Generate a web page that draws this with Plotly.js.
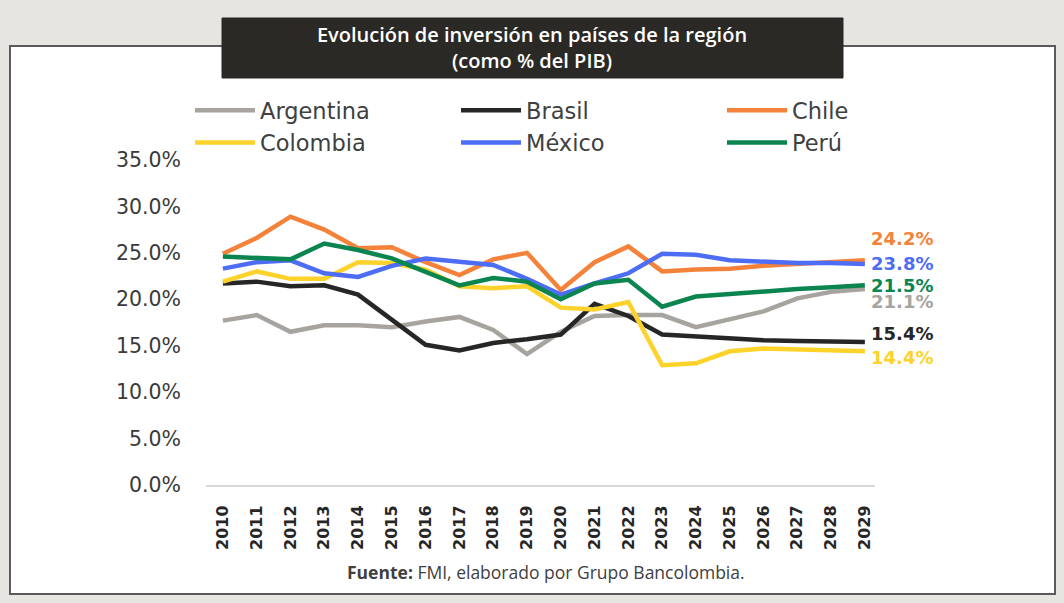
<!DOCTYPE html>
<html>
<head>
<meta charset="utf-8">
<script src="https://cdn.plot.ly/plotly-3.0.1.min.js"></script>
<style>
html,body{margin:0;padding:0;background:#e6e5e1;}
#chart{width:1064px;height:603px;}
</style>
</head>
<body>
<div id="chart"></div>
<script>
var years = ["2010","2011","2012","2013","2014","2015","2016","2017","2018","2019",
             "2020","2021","2022","2023","2024","2025","2026","2027","2028","2029"];
var argentina = [17.7,18.3,16.5,17.2,17.2,17.0,17.6,18.1,16.7,14.1,16.5,18.2,18.3,18.3,17.0,17.8,18.7,20.1,20.8,21.1];
var brasil    = [21.7,21.9,21.4,21.5,20.5,17.8,15.1,14.5,15.3,15.7,16.2,19.5,18.2,16.2,16.0,15.7,15.6,15.5,15.4,15.4];
var chile     = [24.9,26.6,28.9,27.5,25.5,25.6,24.0,22.6,24.3,25.0,21.0,24.0,25.7,23.0,23.2,23.3,23.6,23.8,24.0,24.2];
var colombia  = [21.9,23.0,22.2,22.2,24.0,23.9,23.2,21.4,21.2,21.4,19.1,18.9,19.7,12.9,13.1,14.4,14.7,14.6,14.5,14.4];
var mexico    = [23.3,24.0,24.2,22.8,22.4,23.6,24.4,24.0,23.7,22.2,20.5,21.7,22.8,24.9,24.8,24.2,24.0,23.9,23.9,23.8];
var peru      = [24.6,24.4,24.3,26.0,25.3,24.4,23.0,21.5,22.3,21.9,20.0,21.7,22.1,19.2,20.3,20.6,20.8,21.1,21.3,21.5];

var names  = ["Argentina","Brasil","Chile","Colombia","México","Perú"];
var values = [argentina, brasil, chile, colombia, mexico, peru];
var colors = ["#a7a49f","#262626","#f4823a","#fdd22b","#4e6df5","#0b8550"];
var labelShift = [-12, 9, 22, -6, 1, 0];
var titleText = "Evolución de inversión en países de la región<br>(como % del PIB)";
var sourceText = "<b>Fuente:</b> FMI, elaborado por Grupo Bancolombia.";

// layout geometry (pixels)
var W = 1064, H = 603, L = 206, R = 189, T = 160, B = 118;
var pw = W - L - R, ph = H - T - B;
function px(x){ return (x - L) / pw; }
function py(y){ return (H - B - y) / ph; }

var traces = names.map(function(n, i){
  return {
    type: "scatter", mode: "lines", name: n, x: years, y: values[i],
    line: {color: colors[i], width: 4.5},
    hoverinfo: "x+y+name"
  };
});

var annotations = names.map(function(n, i){
  var last = values[i].length - 1;
  var v = values[i][last];
  return {
    x: last, y: v, xref: "x", yref: "y",
    text: "<b>" + v.toFixed(1) + "%</b>", showarrow: false,
    xanchor: "left", yanchor: "middle", xshift: 4, yshift: labelShift[i],
    font: {family: "DejaVu Sans", size: 18, color: colors[i]}
  };
});
annotations.push({
  xref: "paper", yref: "paper", x: px(546), y: py(572),
  text: sourceText, showarrow: false, xanchor: "center", yanchor: "middle",
  font: {family: "Open Sans", size: 17.5, color: "#404040"}
});

var layout = {
  width: W, height: H,
  margin: {l: L, r: R, t: T, b: B, pad: 0},
  paper_bgcolor: "#e6e5e1",
  plot_bgcolor: "rgba(0,0,0,0)",
  showlegend: true,
  title: {
    text: titleText, x: 532/W, xanchor: "center", y: 1 - 42/H, yanchor: "middle",
    font: {family: "Open Sans", size: 20, color: "#ffffff", weight: 600}
  },
  legend: {
    orientation: "h", x: px(190), y: py(89), xanchor: "left", yanchor: "top",
    font: {family: "DejaVu Sans", size: 22.5, color: "#404040"},
    itemwidth: 60,
    entrywidth: 191, entrywidthmode: "pixels",
    bgcolor: "rgba(0,0,0,0)", traceorder: "normal"
  },
  xaxis: {
    type: "category", range: [-0.5, 19.3], fixedrange: true,
    showgrid: false, zeroline: false,
    showline: true, linecolor: "#d9d9d9", linewidth: 2,
    ticks: "", tickangle: -90, ticklabelstandoff: 12,
    tickfont: {family: "DejaVu Sans", size: 16, color: "#262626", weight: 700}
  },
  yaxis: {
    range: [0, 35], dtick: 5, tick0: 0, fixedrange: true,
    showgrid: false, zeroline: false, showline: false,
    tickformat: ".1f", ticksuffix: "%", ticks: "", ticklabelstandoff: 24,
    tickfont: {family: "DejaVu Sans", size: 20.5, color: "#3a3a3a"}
  },
  shapes: [
    {type: "rect", xref: "paper", yref: "paper", layer: "below",
     x0: px(10), x1: px(1055), y0: py(594), y1: py(46),
     fillcolor: "#ffffff", line: {color: "#5a5a5a", width: 2}},
    {type: "rect", xref: "paper", yref: "paper", layer: "below",
     x0: px(222), x1: px(843), y0: py(78), y1: py(18),
     fillcolor: "#2b2926", line: {color: "#2b2926", width: 1}}
  ],
  annotations: annotations
};

Plotly.newPlot("chart", traces, layout, {displayModeBar: false, staticPlot: true});
</script>
</body>
</html>
